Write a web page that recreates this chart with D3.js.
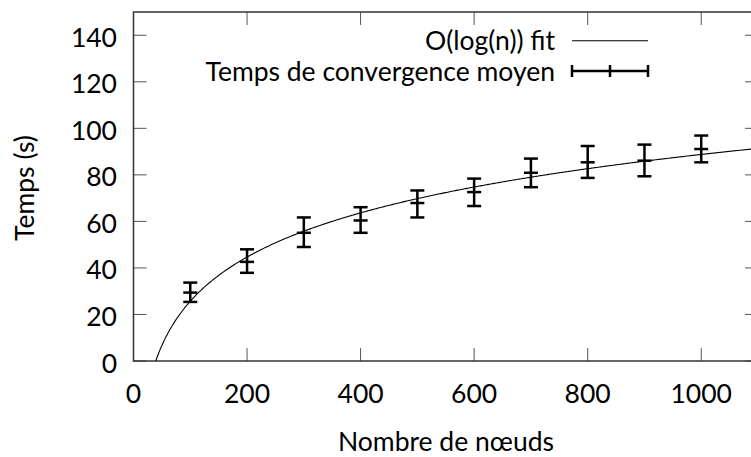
<!DOCTYPE html>
<html>
<head>
<meta charset="utf-8">
<script src="https://cdn.jsdelivr.net/npm/d3@7"></script>
<style>
  body { margin: 0; background: #fff; }
  svg { display: block; font-family: Lato, "Open Sans", sans-serif; }
</style>
</head>
<body>
<svg id="chart" width="751" height="457"></svg>
<script>
// mean convergence time per network size, with min / max error bars
var nodes = [100, 200, 300, 400, 500, 600, 700, 800, 900, 1000];
var meanTime = [29.4, 42.6, 55.1, 60.4, 67.9, 72.6, 80.9, 85.4, 86.1, 91.1];
var lowTime = [25.4, 37.9, 49.0, 55.1, 61.7, 66.6, 74.7, 78.7, 79.4, 85.4];
var highTime = [33.7, 48.0, 61.7, 66.1, 73.3, 78.4, 87.0, 92.4, 93.0, 96.9];

// fitted f(n) = a*log(n) + b
var fitA = 27.4,
    fitB = -100.5;

var xTicks = [0, 200, 400, 600, 800, 1000];
var yTicks = [0, 20, 40, 60, 80, 100, 120, 140];

var legendLabels = ["O(log(n)) fit", "Temps de convergence moyen"];

// note: "top" is taken by window.top, so use plot* names
var plotLeft = 133.5, plotTop = 12, plotRight = 758, plotBottom = 361;
var fontSize = 26.5;

var svg = d3.select("#chart");

var x = d3.scaleLinear().domain([0, 1100]).range([plotLeft, plotRight]);
var y = d3.scaleLinear().domain([0, 150]).range([plotBottom, plotTop]);

svg.append("clipPath").attr("id", "plot-clip")
  .append("rect")
    .attr("x", plotLeft).attr("y", plotTop)
    .attr("width", plotRight - plotLeft).attr("height", plotBottom - plotTop);

// ticks, all four sides, pointing inwards
var tickLen = 13;
var ticks = svg.append("g").attr("stroke", "#555").attr("stroke-width", 1);
xTicks.forEach(function (t) {
    ticks.append("line").attr("x1", x(t)).attr("x2", x(t)).attr("y1", plotBottom).attr("y2", plotBottom - tickLen);
    ticks.append("line").attr("x1", x(t)).attr("x2", x(t)).attr("y1", plotTop).attr("y2", plotTop + tickLen);
});
yTicks.forEach(function (t) {
    ticks.append("line").attr("x1", plotLeft).attr("x2", plotLeft + tickLen).attr("y1", y(t)).attr("y2", y(t));
    ticks.append("line").attr("x1", plotRight).attr("x2", plotRight - tickLen).attr("y1", y(t)).attr("y2", y(t));
});

// border
svg.append("rect")
    .attr("x", plotLeft).attr("y", plotTop)
    .attr("width", plotRight - plotLeft).attr("height", plotBottom - plotTop)
    .attr("fill", "none").attr("stroke", "#333").attr("stroke-width", 1.5);

// tick labels
svg.append("g").selectAll("text")
  .data(xTicks).enter().append("text")
    .attr("x", function (d) { return x(d); })
    .attr("y", 403)
    .attr("text-anchor", "middle")
    .attr("font-size", fontSize)
    .text(function (d) { return d; });

svg.append("g").selectAll("text")
  .data(yTicks).enter().append("text")
    .attr("x", 117)
    .attr("y", function (d) { return y(d) + 11.5; })
    .attr("text-anchor", "end")
    .attr("font-size", fontSize)
    .text(function (d) { return d; });

// axis titles
svg.append("text")
    .attr("transform", "translate(34,188) rotate(-90)")
    .attr("text-anchor", "middle")
    .attr("font-size", fontSize)
    .text("Temps (s)");

svg.append("text")
    .attr("x", 446).attr("y", 451)
    .attr("text-anchor", "middle")
    .attr("font-size", fontSize)
    .text("Nombre de nœuds");

// fit curve
var fitN = d3.range(39.2, 1100, 2);
var fitLine = d3.line()
    .x(function (n) { return x(n); })
    .y(function (n) { return y(fitA * Math.log(n) + fitB); });

svg.append("path")
    .datum(fitN)
    .attr("clip-path", "url(#plot-clip)")
    .attr("d", fitLine)
    .attr("fill", "none")
    .attr("stroke", "#000")
    .attr("stroke-width", 1.1);

// error bars
var capW = 7;
var bars = svg.append("g")
    .attr("stroke", "#000")
    .attr("stroke-width", 2.5)
  .selectAll("g")
  .data(nodes).enter().append("g");

bars.append("line")
    .attr("x1", function (d) { return x(d); }).attr("x2", function (d) { return x(d); })
    .attr("y1", function (d, i) { return y(lowTime[i]); })
    .attr("y2", function (d, i) { return y(highTime[i]); });
bars.append("line")
    .attr("x1", function (d) { return x(d) - capW; }).attr("x2", function (d) { return x(d) + capW; })
    .attr("y1", function (d, i) { return y(lowTime[i]); })
    .attr("y2", function (d, i) { return y(lowTime[i]); });
bars.append("line")
    .attr("x1", function (d) { return x(d) - capW; }).attr("x2", function (d) { return x(d) + capW; })
    .attr("y1", function (d, i) { return y(highTime[i]); })
    .attr("y2", function (d, i) { return y(highTime[i]); });
bars.append("line")
    .attr("x1", function (d) { return x(d) - capW; }).attr("x2", function (d) { return x(d) + capW; })
    .attr("y1", function (d, i) { return y(meanTime[i]); })
    .attr("y2", function (d, i) { return y(meanTime[i]); });

// legend
var legendX = 555, sampleX0 = 572, sampleX1 = 648;
var legendY = [40.7, 71];
legendLabels.forEach(function (label, i) {
    svg.append("text")
        .attr("x", legendX).attr("y", legendY[i] + 9.5)
        .attr("text-anchor", "end")
        .attr("font-size", fontSize)
        .text(label);
});
svg.append("line")
    .attr("x1", sampleX0).attr("x2", sampleX1)
    .attr("y1", legendY[0]).attr("y2", legendY[0])
    .attr("stroke", "#000").attr("stroke-width", 1.1);

var lg = svg.append("g").attr("stroke", "#000").attr("stroke-width", 2.5);
lg.append("line").attr("x1", sampleX0).attr("x2", sampleX1).attr("y1", legendY[1]).attr("y2", legendY[1]);
[sampleX0, (sampleX0 + sampleX1) / 2, sampleX1].forEach(function (sx) {
    lg.append("line").attr("x1", sx).attr("x2", sx).attr("y1", legendY[1] - 6).attr("y2", legendY[1] + 6);
});
</script>
</body>
</html>
